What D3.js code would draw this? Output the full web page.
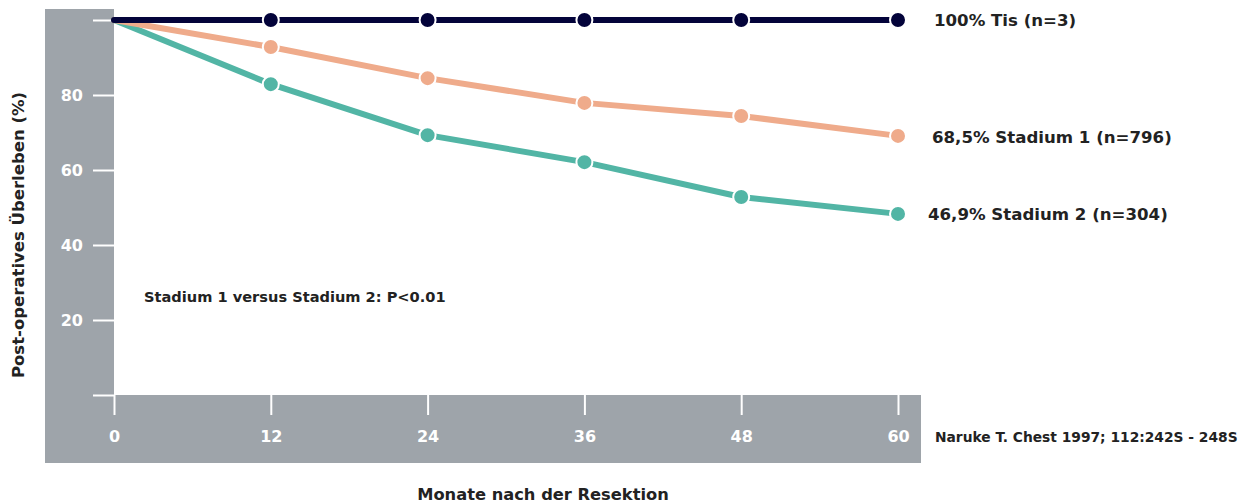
<!DOCTYPE html>
<html>
<head>
<meta charset="utf-8">
<script src="https://cdn.jsdelivr.net/npm/d3@7"></script>
<style>
  body { margin: 0; background: #fff; }
  text { font-family: "DejaVu Sans", Verdana, sans-serif; font-weight: bold; }
</style>
</head>
<body>
<script>
const months = [0, 12, 24, 36, 48, 60];
const tisValues = [100, 100, 100, 100, 100, 100];
const stage1Values = [100, 92.8, 84.5, 77.9, 74.4, 69.1];
const stage2Values = [100, 82.9, 69.3, 62.1, 52.8, 48.3];
const yTicks = [0, 20, 40, 60, 80, 100];
const seriesLabels = ["46,9% Stadium 2 (n=304)", "68,5% Stadium 1 (n=796)", "100% Tis (n=3)"];

const W = 1243, H = 504;
const svg = d3.select("body").append("svg").attr("width", W).attr("height", H);

const x = d3.scaleLinear().domain([0, 60]).range([114, 898]);
const y = d3.scaleLinear().domain([0, 100]).range([395, 20]);

// grey frame
svg.append("rect").attr("x", 45).attr("y", 9).attr("width", 69).attr("height", 454).attr("fill", "#9ea4aa");
svg.append("rect").attr("x", 45).attr("y", 395).attr("width", 876).attr("height", 68).attr("fill", "#9ea4aa");

// y axis
const yAxis = svg.append("g").attr("transform", "translate(114,0)")
  .call(d3.axisLeft(y).tickValues(yTicks).tickSize(21).tickPadding(10)
    .tickFormat(d => (d === 0 || d === 100) ? "" : d));
yAxis.select(".domain").remove();
yAxis.selectAll("line").attr("stroke", "#fff").attr("stroke-width", 2);
yAxis.selectAll("text").attr("fill", "#fff").style("font-size", "16px")
  .style("font-family", "'DejaVu Sans', Verdana, sans-serif").style("font-weight", "bold");

// x axis
const xAxis = svg.append("g").attr("transform", "translate(0,395)")
  .call(d3.axisBottom(x).tickValues(months).tickSize(20).tickPadding(16));
xAxis.select(".domain").remove();
xAxis.selectAll("line").attr("stroke", "#fff").attr("stroke-width", 2);
xAxis.selectAll("text").attr("fill", "#fff").style("font-size", "16px")
  .style("font-family", "'DejaVu Sans', Verdana, sans-serif").style("font-weight", "bold");

// lines
const series = [
  { values: stage2Values, color: "#52b5a5" },
  { values: stage1Values, color: "#efab8b" },
  { values: tisValues, color: "#03033a" }
];
const line = d3.line().x((d, i) => x(months[i])).y(d => y(d));

series.forEach(s => {
  svg.append("path").datum(s.values).attr("d", line)
    .attr("fill", "none").attr("stroke", s.color).attr("stroke-width", 6)
    .attr("stroke-linejoin", "round").attr("stroke-linecap", "round");
});
series.forEach(s => {
  svg.selectAll(null).data(s.values.slice(1)).enter().append("circle")
    .attr("cx", (d, i) => x(months[i + 1])).attr("cy", d => y(d)).attr("r", 8)
    .attr("fill", s.color).attr("stroke", "#fff").attr("stroke-width", 2);
});

// series labels
const labelX = [928, 932, 934];
const labelDy = [6, 7, 6];
series.forEach((s, k) => {
  svg.append("text").attr("x", labelX[k]).attr("y", y(s.values[5]) + labelDy[k])
    .attr("fill", "#222").style("font-size", "16.6px").text(seriesLabels[k]);
});

svg.append("text").attr("x", 144).attr("y", 302).attr("fill", "#222")
  .style("font-size", "14.6px").text("Stadium 1 versus Stadium 2: P<0.01");

svg.append("text").attr("x", 935).attr("y", 442).attr("fill", "#222")
  .style("font-size", "13.8px").text("Naruke T. Chest 1997; 112:242S - 248S");

svg.append("text").attr("x", 543).attr("y", 500).attr("text-anchor", "middle")
  .attr("fill", "#222").style("font-size", "16.3px").text("Monate nach der Resektion");

svg.append("text").attr("transform", "translate(24,235) rotate(-90)").attr("text-anchor", "middle")
  .attr("fill", "#222").style("font-size", "16.5px").text("Post-operatives Überleben (%)");
</script>
</body>
</html>
